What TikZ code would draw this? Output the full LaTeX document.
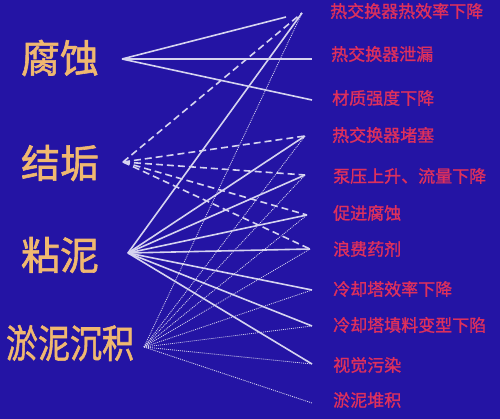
\documentclass[tikz,border=0pt]{standalone}
\usepackage{fontspec}
\newfontfamily\cjk[FakeBold=1.2]{Noto Sans CJK SC}
\newfontfamily\cjkbig[FakeBold=1.5]{Noto Sans CJK SC}
\definecolor{bgblue}{RGB}{36,20,164}
\definecolor{linecol}{RGB}{214,212,240}
\definecolor{goldtxt}{RGB}{240,184,112}
\definecolor{redtxt}{RGB}{222,48,92}
\tikzset{
	cause/.style={font=\cjkbig\fontsize{39}{40}\selectfont, text=goldtxt, inner sep=0pt},
	effect/.style={font=\cjk\fontsize{17}{18}\selectfont, text=redtxt, anchor=west, inner sep=0pt},
	solidline/.style={draw=linecol, line width=1.6pt},
	dashline/.style={draw=linecol, line width=1.6pt, dash pattern=on 7pt off 4pt},
	dotline/.style={draw=linecol, line width=0.8pt, dash pattern=on 1pt off 1pt}
}
\begin{document}
\begin{tikzpicture}[x=1pt,y=-1pt]
		\fill[bgblue] (0,0) rectangle (500,419);
		\useasboundingbox (0,0) rectangle (500,419);

		\node[cause] (fs) at (60,58) {腐蚀};
		\node[cause] (jg) at (60,163) {结垢};
		\node[cause] (nn) at (60,255) {粘泥};
		\node[cause, xscale=0.82] (yn) at (70,343) {淤泥沉积};

		\coordinate (a1) at (122,59);
		\coordinate (a2) at (123,162);
		\coordinate (a3) at (128,253);
		\coordinate (a4) at (144,347);

		\node[effect] (e1) at (330,11) {热交换器热效率下降};
		\node[effect] (e2) at (331,54) {热交换器泄漏};
		\node[effect] (e3) at (332,98) {材质强度下降};
		\node[effect] (e4) at (332,135) {热交换器堵塞};
		\node[effect] (e5) at (333,176) {泵压上升、流量下降};
		\node[effect] (e6) at (333,213) {促进腐蚀};
		\node[effect] (e7) at (333,249) {浪费药剂};
		\node[effect] (e8) at (333,289) {冷却塔效率下降};
		\node[effect] (e9) at (333,325) {冷却塔填料变型下陷};
		\node[effect] (e10) at (333,365) {视觉污染};
		\node[effect] (e11) at (333,400) {淤泥堆积};

		\coordinate (t0) at (286,17);
		\coordinate (t1) at (302,13);
		\coordinate (t2) at (312,59);
		\coordinate (t3) at (312,100);
		\coordinate (t4) at (305,136);
		\coordinate (t5) at (305,175);
		\coordinate (t6) at (307,215);
		\coordinate (t7) at (310,249);
		\coordinate (t8) at (312,290);
		\coordinate (t9) at (312,326);
		\coordinate (t10) at (312,364);
		\coordinate (t11) at (312,403);

		% 淤泥沉积
		\foreach \t in {t1,t4,t5,t6,t7,t8,t9,t10,t11}
			\draw[dotline] (a4) -- (\t);
		% 结垢
		\foreach \t in {t1,t4,t5,t6,t7}
			\draw[dashline] (a2) -- (\t);
		% 粘泥
		\foreach \t in {t1,t4,t5,t6,t7,t8,t9,t10}
			\draw[solidline] (a3) -- (\t);
		% 腐蚀
		\foreach \t in {t0,t2,t3}
			\draw[solidline] (a1) -- (\t);
	\end{tikzpicture}
\end{document}
